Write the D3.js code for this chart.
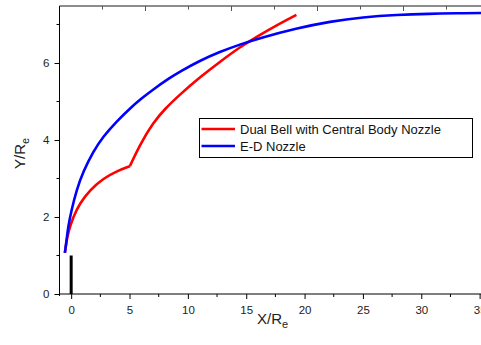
<!DOCTYPE html>
<html>
<head>
<meta charset="utf-8">
<script src="https://cdn.jsdelivr.net/npm/d3@7"></script>
<style>
  body { margin: 0; background: #fff; }
  svg text { font-family: "Liberation Sans", Arial, sans-serif; }
</style>
</head>
<body>
<svg id="chart" width="481" height="345"></svg>
<script>
"use strict"

// E-D nozzle contour
const edX = [-0.54, -0.4, -0.26, 0.03, 0.46, 1.03, 1.89, 2.74, 3.89, 5.03, 6.03, 7.03, 8.46, 9.31, 11.03, 12.74, 14.45, 16.2, 19.3, 22.2, 25, 27.9, 30.7, 33, 36]
const edY = [1.07, 1.38, 1.75, 2.18, 2.7, 3.18, 3.7, 4.09, 4.48, 4.82, 5.08, 5.315, 5.615, 5.775, 6.06, 6.29, 6.48, 6.65, 6.9, 7.08, 7.19, 7.25, 7.28, 7.29, 7.3]

// dual bell contour, first bell up to the inflection, then second bell
const bell1X = [-0.54, -0.42, -0.26, 0.17, 0.75, 1.6, 2.74, 3.89, 5.03]
const bell1Y = [1.07, 1.32, 1.6, 2.0, 2.36, 2.7, 3.0, 3.19, 3.32]
const bell2X = [5.03, 5.89, 7.03, 8.0, 9.31, 11.03, 12.74, 14.45, 16.0, 17.6, 19.3]
const bell2Y = [3.32, 3.88, 4.45, 4.8, 5.18, 5.63, 6.03, 6.41, 6.7, 6.98, 7.25]

const centralBodyX = [0, 0]
const centralBodyY = [0, 1]

const xTicks = [0, 5, 10, 15, 20, 25, 30, 35]
const yTicks = [0, 2, 4, 6]
const seriesNames = ["Dual Bell with Central Body Nozzle", "E-D Nozzle"]
const seriesColors = ["#ff0000", "#0000ff"]

const svg = d3.select("#chart")
const plotLeft = 59.5, plotBottom = 294, plotTop = 6

const x = d3.scaleLinear().domain([-1, 36]).range([plotLeft, plotLeft + 37 * 11.67])
const y = d3.scaleLinear().domain([0, 7.48]).range([plotBottom, plotTop])

const zip = (xs, ys) => xs.map((v, i) => [v, ys[i]])

// read-off points are a bit noisy, so a B-spline smooths them out
const line = d3.line()
    .x(d => x(d[0]))
    .y(d => y(d[1]))
    .curve(d3.curveBasis)

// top frame with its inward ticks
const topScale = d3.scaleLinear().domain([0, 5]).range([plotLeft, plotLeft + 5 * 86])
svg.append("line")
    .attr("x1", plotLeft).attr("x2", 481)
    .attr("y1", plotTop).attr("y2", plotTop)
    .attr("stroke", "#666").attr("stroke-width", 1.5)
svg.append("g").selectAll("line")
    .data(d3.range(0, 5.01, 0.5))
  .enter().append("line")
    .attr("x1", d => topScale(d)).attr("x2", d => topScale(d))
    .attr("y1", plotTop).attr("y2", d => plotTop + (d % 1 === 0 ? 5 : 3.5))
    .attr("stroke", "#555").attr("stroke-width", 1)

// bottom axis
const xAxis = d3.axisBottom(x).tickValues(xTicks).tickSize(5).tickSizeOuter(0).tickPadding(5)
const gx = svg.append("g").attr("transform", `translate(0,${plotBottom})`).call(xAxis)
gx.select(".domain").attr("d", `M${plotLeft},0H481`)
gx.selectAll("text").attr("font-size", 11.5).attr("fill", "#222").attr("dy", "0.9em")
gx.selectAll(".minor")
    .data(d3.range(2.5, 36, 5))
  .enter().append("line")
    .attr("class", "minor")
    .attr("x1", d => x(d)).attr("x2", d => x(d))
    .attr("y1", 0).attr("y2", 3)
    .attr("stroke", "#000")

// left axis
const yAxis = d3.axisLeft(y).tickValues(yTicks).tickSize(5).tickSizeOuter(0).tickPadding(5)
const gy = svg.append("g").attr("transform", `translate(${plotLeft},0)`).call(yAxis)
gy.select(".domain").attr("d", `M0,${plotBottom + 2}V${plotTop}`)
gy.selectAll("text").attr("font-size", 11.5).attr("fill", "#222")
gy.selectAll(".minor")
    .data([1, 3, 5, 7])
  .enter().append("line")
    .attr("class", "minor")
    .attr("x1", 0).attr("x2", -3)
    .attr("y1", d => y(d)).attr("y2", d => y(d))
    .attr("stroke", "#000")

// axis titles
const xt = svg.append("text")
    .attr("x", 257).attr("y", 324)
    .attr("font-size", 15).attr("fill", "#222")
xt.append("tspan").text("X/R")
xt.append("tspan").attr("font-size", 11).attr("dy", 4).text("e")

const yt = svg.append("text")
    .attr("transform", "translate(25,169) rotate(-90)")
    .attr("font-size", 15).attr("fill", "#222")
yt.append("tspan").text("Y/R")
yt.append("tspan").attr("font-size", 11).attr("dy", 4).text("e")

// curves
svg.append("path")
    .datum(zip(centralBodyX, centralBodyY))
    .attr("d", d3.line().x(d => x(d[0])).y(d => y(d[1])))
    .attr("stroke", "#000").attr("stroke-width", 3).attr("fill", "none")

const curves = [zip(bell1X, bell1Y), zip(bell2X, bell2Y)]
svg.append("g").selectAll("path")
    .data(curves)
  .enter().append("path")
    .attr("d", line)
    .attr("stroke", seriesColors[0]).attr("stroke-width", 2.6)
    .attr("fill", "none").attr("stroke-linejoin", "round")

svg.append("path")
    .datum(zip(edX, edY))
    .attr("d", line)
    .attr("stroke", seriesColors[1]).attr("stroke-width", 2.6)
    .attr("fill", "none")

// legend
const legend = svg.append("g").attr("transform", "translate(199.5,118.5)")
legend.append("rect")
    .attr("width", 273).attr("height", 39)
    .attr("fill", "#fff").attr("stroke", "#000").attr("stroke-width", 1)
const item = legend.selectAll(".item")
    .data(seriesNames)
  .enter().append("g")
    .attr("class", "item")
    .attr("transform", (d, i) => `translate(0,${10.5 + i * 17})`)
item.append("line")
    .attr("x1", 2).attr("x2", 35.5)
    .attr("stroke", (d, i) => seriesColors[i]).attr("stroke-width", 2.6)
item.append("text")
    .attr("x", 40.5).attr("dy", "0.36em")
    .attr("font-size", 13).attr("fill", "#111")
    .text(d => d)
</script>
</body>
</html>
